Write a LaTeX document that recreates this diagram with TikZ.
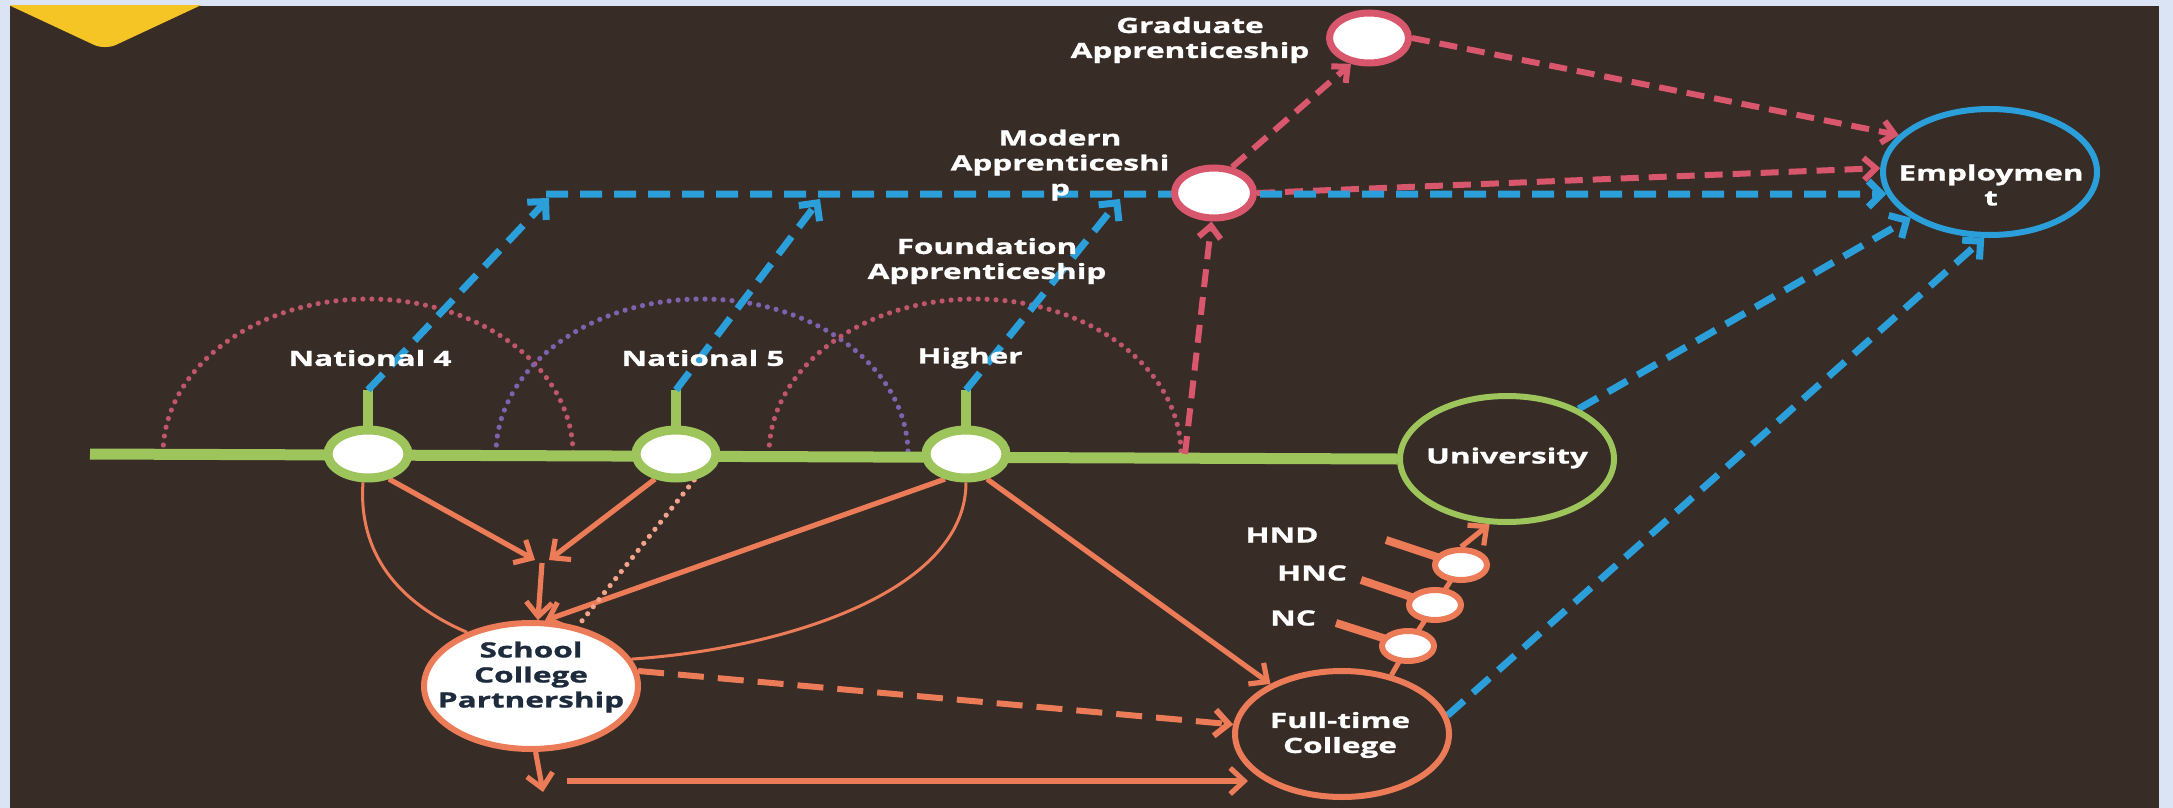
\documentclass[tikz,border=0pt]{standalone}
\usepackage{fontspec}
\newfontfamily\dlblfont{Open Sans}[FakeStretch=1.5,FakeBold=1.2]
\newcommand\dlbl{\dlblfont\bfseries\fontsize{10.5pt}{12.5pt}\selectfont}
\usetikzlibrary{arrows.meta,shapes.geometric}
\pgfdeclarelayer{back}
\pgfdeclarelayer{lines}
\pgfsetlayers{back,lines,main}
\definecolor{bgc}{HTML}{382C27}
\definecolor{framec}{HTML}{DAE4F5}
\definecolor{grn}{HTML}{9DC55C}
\definecolor{blu}{HTML}{2A9FD9}
\definecolor{rd}{HTML}{D9576C}
\definecolor{cor}{HTML}{EC7B58}
\definecolor{arcred}{HTML}{C0566A}
\definecolor{arcpur}{HTML}{7E62AE}
\definecolor{ylw}{HTML}{F5C526}
\definecolor{navy}{HTML}{1E2B3C}
\tikzset{
  barbB/.tip={Straight Barb[length=6.5pt,width=13pt]},
  barbC/.tip={Straight Barb[length=7pt,width=13pt]},
  barbR/.tip={Straight Barb[length=6pt,width=11pt]},
}
\begin{document}
\begin{tikzpicture}[x=0.5pt,y=-0.5pt,
  lbl/.style={font=\dlbl, text=white, align=center, inner sep=0pt},
  big/.style={ellipse, minimum width=107pt, minimum height=63pt, inner sep=0pt, line width=3pt, fill=bgc},
  gnode/.style={ellipse, draw=grn, fill=white, line width=4.5pt, minimum width=40pt, minimum height=24pt, inner sep=0pt},
  rnode/.style={ellipse, draw=rd, fill=white, line width=3.5pt, minimum width=39.5pt, minimum height=25pt, inner sep=0pt},
  cnode/.style={ellipse, draw=cor, fill=white, line width=3pt, minimum width=26pt, minimum height=15pt, inner sep=0pt},
  bdash/.style={blu, line width=3.5pt, dash pattern=on 11pt off 6pt, -{barbB}},
  rdash/.style={rd, line width=3pt, dash pattern=on 9pt off 5pt, -{barbR}},
  cline/.style={cor, line width=2.6pt, -{barbC}},
  cthin/.style={cor, line width=1.5pt},
  cdash/.style={cor, line width=3pt, dash pattern=on 13pt off 7pt, -{barbC}},
  cdot/.style={cor!70!white, line width=2.6pt, line cap=round, dash pattern=on 0pt off 4.5pt},
  dotarc/.style={line width=2.6pt, line cap=round, dash pattern=on 0pt off 4.5pt},
  cstem/.style={cor, line width=4pt},
]
\useasboundingbox (0,0) rectangle (2173,808);
\begin{pgfonlayer}{back}
\fill[framec] (0,0) rectangle (2173,808);
\fill[bgc] (10,6) rectangle (2159,808);
\begin{scope}
\clip (10,6) rectangle (2159,808);
\fill[ylw, rounded corners=6pt] (105,50) -- (300,-41) -- (105,-132) -- (-90,-41) -- cycle;
\end{scope}
\end{pgfonlayer}

% nodes
\node[gnode] (n4) at (368,454) {};
\node[gnode] (n5) at (676,454) {};
\node[gnode] (hi) at (966,454) {};
\node[rnode] (ma) at (1214,193) {};
\node[rnode] (ga) at (1369,38) {};
\node[big, draw=blu] (emp) at (1990,172) {};
\node[big, draw=grn] (univ) at (1507,459) {};
\node[big, draw=cor, fill=white] (scp) at (531,686) {};
\node[big, draw=cor] (ftc) at (1342,734) {};
\node[cnode] (hnd) at (1461,565) {};
\node[cnode] (hnc) at (1435,605) {};
\node[cnode] (nc) at (1408,646) {};

% labels
\node[lbl] (tn4) at (370,358) {National 4};
\node[lbl] (tn5) at (703,358) {National 5};
\node[lbl] (thi) at (970,358) {Higher};
\node[lbl] (tfa) at (987,261) {Foundation\\Apprenticeship};
\node[lbl] (tma) at (1060,165) {Modern\\Apprenticeshi\\p};
\node[lbl] (tga) at (1190,40) {Graduate\\Apprenticeship};
\node[lbl] (temp) at (1991,185) {Employmen\\t};
\node[lbl] (tuniv) at (1507,458) {University};
\node[lbl] (tftc) at (1340,735) {Full-time\\College};
\node[lbl, text=navy] (tscp) at (531,677) {School\\College\\Partnership};
\node[lbl] (thnd) at (1282,535) {HND};
\node[lbl] (thnc) at (1312,573) {HNC};
\node[lbl] (tnc) at (1293,618) {NC};

% coordinates
\coordinate (mls) at (90,454);
\coordinate (s4) at (368,390);
\coordinate (s5) at (676,390);
\coordinate (sh) at (966,390);
\coordinate (c1) at (549,198);
\coordinate (c2) at (820,199);
\coordinate (c3) at (1120,199);
\coordinate (c1h) at (546,194);
\coordinate (rm) at (1185,454);
\coordinate (jl) at (535,560);
\coordinate (jr) at (549,560);
\coordinate (jt) at (542,563);
\coordinate (sd) at (543,792);
\coordinate (hs) at (567,781);
\coordinate (hf) at (1248,781);
\coordinate (hndS) at (1386,540);
\coordinate (hncS) at (1361,580);
\coordinate (ncS) at (1336,623);

\begin{pgfonlayer}{lines}
% dotted arcs
\draw[arcred, dotarc] (163,454) arc[start angle=180, end angle=0, x radius=102.5pt, y radius=77.5pt];
\draw[arcpur, dotarc] (496,454) arc[start angle=180, end angle=0, x radius=103pt, y radius=77.5pt];
\draw[arcred, dotarc] (769,454) arc[start angle=180, end angle=0, x radius=103pt, y radius=77.5pt];
% main line and stubs
\draw[grn, line width=5.5pt] (mls) -- (univ.180);
\draw[grn, line width=5pt] (n4.center) -- (s4);
\draw[grn, line width=5pt] (n5.center) -- (s5);
\draw[grn, line width=5pt] (hi.center) -- (sh);
% red dashed
\draw[rdash] (rm) -- (ma.-95);
\draw[rdash] (ma.55) -- (ga.-125);
\draw[rdash] (ga.east) -- (emp.158);
\draw[rdash] (ma.east) -- (emp.178);
% blue dashed
\draw[bdash] (s4) -- (c1);
\draw[bdash] (s5) -- (c2);
\draw[bdash] (sh) -- (c3);
\draw[bdash] (c1h) -- (emp.-168);
\draw[bdash] (univ.35) -- (emp.-150);
\draw[bdash] (ftc.10) -- (emp.-95);
% coral
\draw[cline] (n4.-50) -- (jl);
\draw[cline] (n5.-130) -- (jr);
\draw[cline] (jt) -- (scp.84);
\draw[cline] (hi.-130) -- (scp.78);
\draw[cthin] (n4.-100) .. controls +(-5,70) and +(-70,-30) .. (scp.140);
\draw[cthin] (hi.-90) .. controls +(0,110) and +(150,-10) .. (scp.15);
\draw[cline] (hi.-50) -- (ftc.145);
\draw[cdash] (scp.8) -- (ftc.175);
\draw[cline] (scp.-86) -- (sd);
\draw[cline] (hs) -- (hf);
\draw[cdot] (n5.-55) -- (scp.52);
% college qualifications
\draw[cor, line width=2.5pt] (nc.center) -- (hnc.center) -- (hnd.center);
\draw[cor, line width=2.5pt] (nc.center) -- (ftc.50);
\draw[cstem] (hndS) -- (hnd.center);
\draw[cstem] (hncS) -- (hnc.center);
\draw[cstem] (ncS) -- (nc.center);
\draw[cline] (hnd.north) -- (univ.-105);
\end{pgfonlayer}
\end{tikzpicture}
\end{document}
